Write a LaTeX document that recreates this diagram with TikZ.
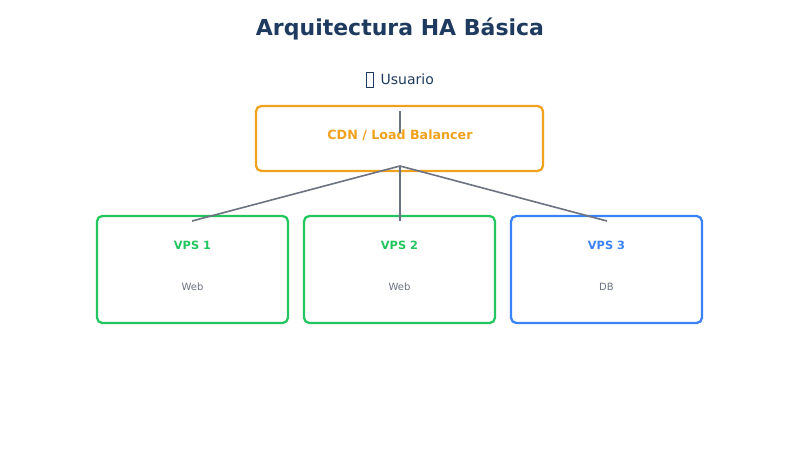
\documentclass[tikz,border=0pt]{standalone}
\usepackage{fontspec}
\setmainfont{DejaVu Sans}
\definecolor{titlec}{HTML}{1E3A5F}
\definecolor{orangec}{HTML}{F0A21E}
\definecolor{greenc}{HTML}{22C55E}
\definecolor{bluec}{HTML}{3B82F6}
\definecolor{linec}{HTML}{6B7280}
\begin{document}
\begin{tikzpicture}[x=0.75pt,y=-0.75pt,
  box/.style={draw,line width=1.7pt,rounded corners=4pt,fill=white,inner sep=0pt},
  conn/.style={draw=linec,line width=1.2pt},
  ttl/.style={font=\bfseries\fontsize{8.5}{10}\selectfont},
  sub/.style={text=linec,font=\fontsize{7.5}{9}\selectfont}]
\useasboundingbox (0,0) rectangle (800,450);
\node[text=titlec,font=\bfseries\fontsize{16.5}{20}\selectfont] (title) at (400,29) {Arquitectura HA Básica};
\node[text=titlec,font=\fontsize{10.5}{12}\selectfont] (user) at (400,80) {\raisebox{-0.5pt}{\tikz[baseline]\draw[line width=0.4pt] (0,-0.3ex) rectangle (0.9ex,1.7ex);}\enspace Usuario};
\node[box,draw=orangec,minimum width=287*0.75pt,minimum height=65*0.75pt] (cdn) at (399.5,138.5) {};
\node[ttl,text=orangec,font=\bfseries\fontsize{9.5}{11}\selectfont] (cdnt) at (400,135) {CDN / Load Balancer};
\foreach \n/\x/\c/\s in {v1/192.5/greenc/Web,v2/399.5/greenc/Web,v3/606.5/bluec/DB}{
  \node[box,draw=\c,minimum width=191*0.75pt,minimum height=107*0.75pt] (\n) at (\x,269.5) {};
  \node[sub] (\n s) at (\x,287) {\s};
}
\node[ttl,text=greenc] (v1t) at (192.5,245) {VPS 1};
\node[ttl,text=greenc] (v2t) at (399.5,245) {VPS 2};
\node[ttl,text=bluec] (v3t) at (606.5,245) {VPS 3};
\coordinate (a) at (400,111);
\coordinate (b) at (400,133);
\coordinate (h) at (400,166);
\coordinate (e1) at (192,221);
\coordinate (e2) at (400,221);
\coordinate (e3) at (607,221);
\draw[conn,line width=1.6pt] (a) -- (b);
\draw[conn] (h) -- (e1);
\draw[conn] (h) -- (e2);
\draw[conn] (h) -- (e3);
\end{tikzpicture}
\end{document}
